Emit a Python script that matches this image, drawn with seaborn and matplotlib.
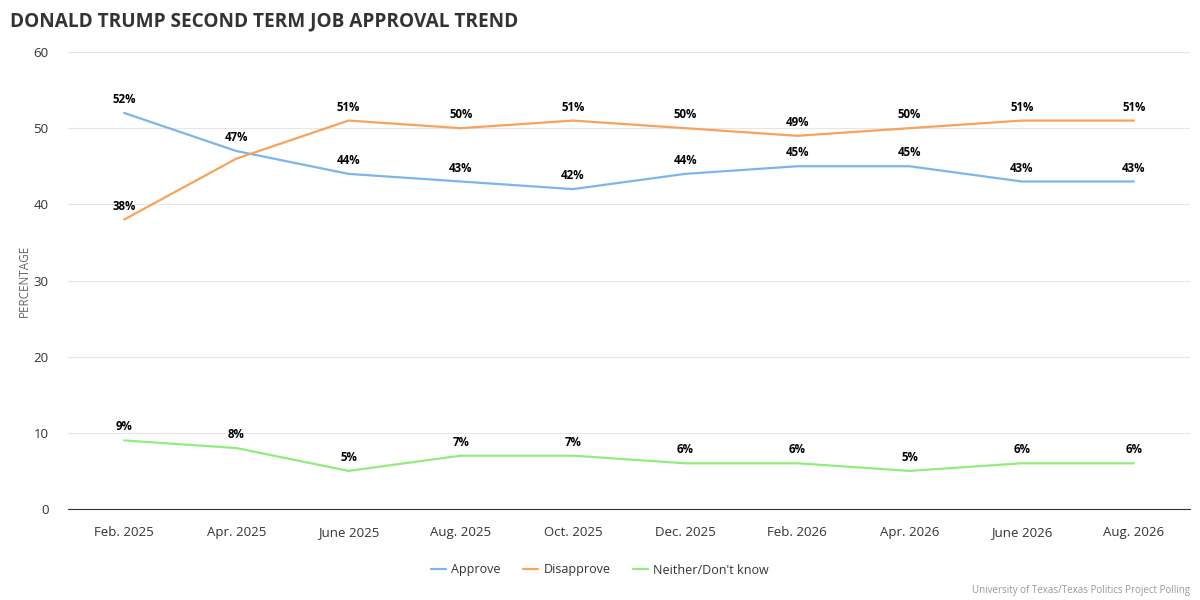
import pandas as pd
import matplotlib.pyplot as plt
import seaborn as sns

categories = ["Feb. 2025", "Apr. 2025", "June 2025", "Aug. 2025", "Oct. 2025",
              "Dec. 2025", "Feb. 2026", "Apr. 2026", "June 2026", "Aug. 2026"]
approve = [52, 47, 44, 43, 42, 44, 45, 45, 43, 43]
disapprove = [38, 46, 51, 50, 51, 50, 49, 50, 51, 51]
neither = [9, 8, 5, 7, 7, 6, 6, 5, 6, 6]

series_names = ["Approve", "Disapprove", "Neither/Don't know"]
colors = ["#7cb5ec", "#f7a35c", "#90ed7d"]
# labels hidden in the original because they overlap
hidden = {("Disapprove", 1)}

rows = []
for name, vals in zip(series_names, [approve, disapprove, neither]):
    for i, v in enumerate(vals):
        rows.append({"x": i, "value": v, "series": name})
df = pd.DataFrame(rows)

sns.set_style("white")
plt.rcParams["font.family"] = ["Open Sans", "DejaVu Sans"]

fig = plt.figure(figsize=(12, 6), dpi=100)
ax = fig.add_axes([0.0567, 0.1517, 0.935, 0.7616])

sns.lineplot(data=df, x="x", y="value", hue="series", palette=colors,
             hue_order=series_names, linewidth=1.6, ax=ax, legend=False)

for name, vals in zip(series_names, [approve, disapprove, neither]):
    for i, v in enumerate(vals):
        if (name, i) in hidden:
            continue
        ax.annotate(f"{v}%", (i, v), xytext=(0, 5), textcoords="offset points",
                    ha="center", va="bottom", fontsize=8.3, fontweight="bold",
                    color="#000000")

ax.set_xlim(-0.5, len(categories) - 0.5)
ax.set_ylim(0, 60)
ax.set_yticks(range(0, 61, 10))
ax.set_xticks(range(len(categories)))
ax.set_xticklabels(categories)
ax.set_xticks([i - 0.5 for i in range(len(categories) + 1)], minor=True)
ax.tick_params(axis="x", which="major", length=0, pad=12, labelsize=9.5, colors="#333333")
ax.tick_params(axis="x", which="minor", length=10, width=0.8, color="#333333", direction="out")
ax.tick_params(axis="y", length=0, labelsize=9.5, colors="#333333", pad=14)
ax.grid(axis="y", color="#e6e6e6", linewidth=0.8)
ax.set_axisbelow(True)
for s in ["top", "right", "left"]:
    ax.spines[s].set_visible(False)
ax.spines["bottom"].set_color("#333333")
ax.spines["bottom"].set_linewidth(0.8)
ax.set_xlabel("")
ax.set_ylabel("PERCENTAGE", fontsize=8.5, color="#666666", labelpad=2)

handles = [plt.Line2D([], [], color=c, linewidth=1.6) for c in colors]
fig.legend(handles, series_names, loc="center", bbox_to_anchor=(0.5, 0.05),
           ncol=3, frameon=False, fontsize=9, handlelength=1.2,
           handletextpad=0.4, columnspacing=1.8, labelcolor="#333333")

fig.text(0.008, 0.965, "DONALD TRUMP SECOND TERM JOB APPROVAL TREND", fontsize=13.7,
         fontweight="bold", color="#333333", ha="left", va="center")
fig.text(0.992, 0.015, "University of Texas/Texas Politics Project Polling",
         fontsize=7, color="#999999", ha="right", va="center")

fig.savefig("out.png", dpi=100)
